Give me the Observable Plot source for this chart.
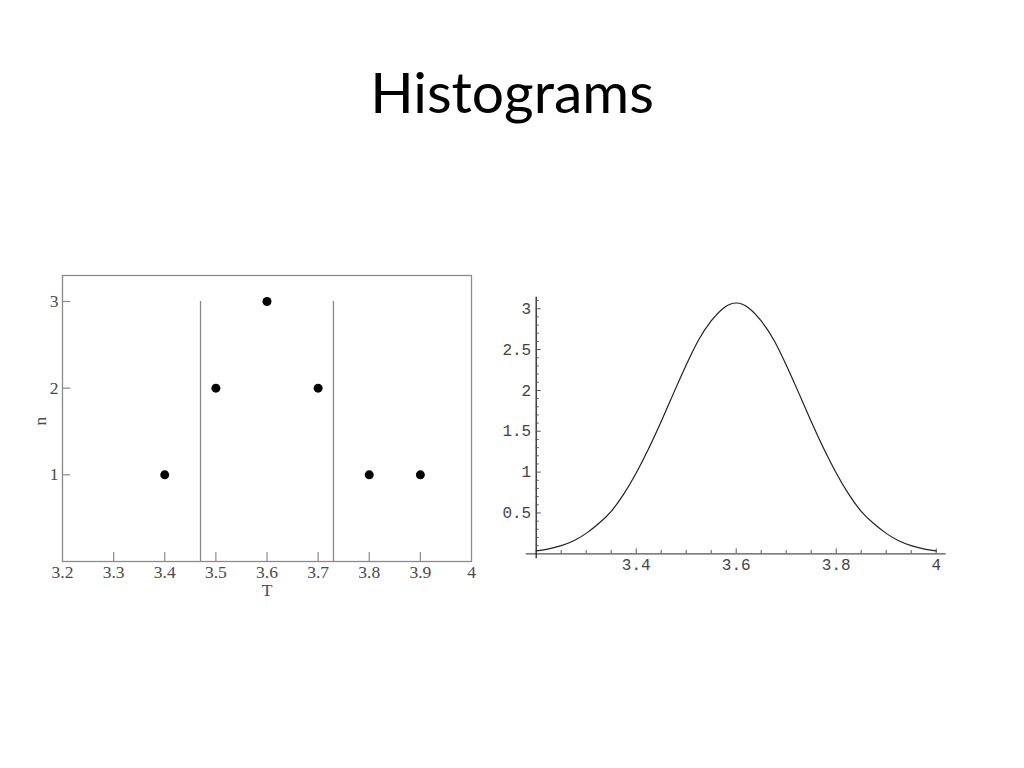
<!DOCTYPE html>
<html>
<head>
<meta charset="utf-8">
<script src="https://cdn.jsdelivr.net/npm/d3@7"></script>
<script src="https://cdn.jsdelivr.net/npm/@observablehq/plot@0.6"></script>
<style>
  html, body { margin: 0; padding: 0; background: #fff; width: 1024px; height: 768px; overflow: hidden; }
  #title { position: absolute; left: 0; width: 1024px; top: 63px; text-align: center;
           font-family: Lato, "Open Sans", sans-serif; font-size: 57px; color: #000; line-height: 1; }
  #left { position: absolute; left: 0; top: 250px; }
  #left svg text { font-family: "Liberation Serif", "Times New Roman", serif !important; font-size: 17.5px !important; }
  #right { position: absolute; left: 498px; top: 285px; width: 470px; height: 300px; overflow: hidden; }
  #right svg { margin-left: -3px; }
  #right svg text { font-family: "Liberation Mono", "DejaVu Sans Mono", monospace !important; font-size: 16px !important; }
</style>
</head>
<body>
<div id="title">Histograms</div>
<div id="left"></div>
<div id="right"></div>
<script>
// ---- Left chart data (counts n vs T) ----
const tValues = [3.4, 3.5, 3.6, 3.7, 3.8, 3.9];
const nCounts = [1, 2, 3, 2, 1, 1];
const binEdges = [3.47, 3.73];
const leftXTicks = [3.2, 3.3, 3.4, 3.5, 3.6, 3.7, 3.8, 3.9, 4];
const leftYTicks = [1, 2, 3];

// ---- Right chart data (smooth curve) ----
const curveX = [3.2, 3.225, 3.25, 3.275, 3.3, 3.325, 3.35, 3.375, 3.4, 3.425, 3.45, 3.475, 3.5, 3.525, 3.55, 3.575, 3.6,
                3.625, 3.65, 3.675, 3.7, 3.725, 3.75, 3.775, 3.8, 3.825, 3.85, 3.875, 3.9, 3.925, 3.95, 3.975, 4.0];
const curveY = [0.035, 0.06, 0.10, 0.16, 0.25, 0.37, 0.52, 0.73, 0.99, 1.29, 1.62, 1.97, 2.31, 2.62, 2.85, 3.01, 3.07,
                3.01, 2.85, 2.62, 2.31, 1.97, 1.62, 1.29, 0.99, 0.73, 0.52, 0.37, 0.25, 0.16, 0.10, 0.06, 0.035];
const rightXLabels = [3.4, 3.6, 3.8, 4];
const rightYLabels = [0.5, 1, 1.5, 2, 2.5, 3];
const rightXMinor = d3.range(0, 17).map(i => +(3.2 + i * 0.05).toFixed(2));
const rightYMinor = d3.range(1, 32).map(i => +(i * 0.1).toFixed(1));

const points = tValues.map((t, i) => ({T: t, n: nCounts[i]}));
const curve = curveX.map((x, i) => ({x, y: curveY[i]}));

const serif = '"Liberation Serif", "Times New Roman", serif';
const gray = "#8a8a8a";

const left = Plot.plot({
  width: 500, height: 360,
  marginLeft: 62, marginRight: 29, marginTop: 25, marginBottom: 49,
  style: {fontFamily: serif, fontSize: "17px", color: "#4a4a4a", background: "transparent", overflow: "visible"},
  x: {domain: [3.2, 4]},
  y: {domain: [0, 3.3]},
  marks: [
    Plot.frame({stroke: gray, strokeWidth: 1.3}),
    Plot.ruleX(binEdges, {x: d => d, y1: 0, y2: 3, stroke: gray, strokeWidth: 1.3}),
    Plot.ruleX(leftXTicks.slice(1, -1), {x: d => d, y1: 0, y2: 0.105, stroke: gray, strokeWidth: 1.2}),
    Plot.ruleY(leftYTicks, {y: d => d, x1: 3.2, x2: 3.216, stroke: gray, strokeWidth: 1.2}),
    Plot.axisX(leftXTicks, {tickSize: 0, tickPadding: 4, tickFormat: d => String(d), fontSize: 17, label: null}),
    Plot.axisY(leftYTicks, {tickSize: 0, tickPadding: 4, tickFormat: d => String(d), fontSize: 17, label: null}),
    Plot.text(["T"], {frameAnchor: "bottom", dy: 22, lineAnchor: "top", text: d => d, fontSize: 17, fill: "#4a4a4a"}),
    Plot.text(["n"], {frameAnchor: "left", dx: -22, dy: 7, rotate: -90, text: d => d, fontSize: 17, fill: "#4a4a4a"}),
    Plot.dot(points, {x: "T", y: "n", r: 4.5, fill: "#000", stroke: null})
  ]
});
document.getElementById("left").appendChild(left);

const mono = '"Liberation Mono", "DejaVu Sans Mono", monospace';
const right = Plot.plot({
  width: 470, height: 300,
  marginLeft: 40.7, marginRight: 29.3, marginTop: 6.9, marginBottom: 31.7,
  style: {fontFamily: mono, fontSize: "16px", color: "#444", background: "transparent", overflow: "visible"},
  x: {domain: [3.2, 4]},
  y: {domain: [0, 3.2]},
  marks: [
    Plot.ruleY([0], {y: d => d, x1: 3.18, x2: 4.02, stroke: "#555", strokeWidth: 1.3}),
    Plot.ruleX([3.2], {x: d => d, y1: -0.06, y2: 3.14, stroke: "#222", strokeWidth: 1.3}),
    Plot.ruleX(rightXMinor.slice(1), {x: d => d, y1: 0, y2: d => (Math.abs(d * 5 - Math.round(d * 5)) < 1e-6 ? 0.06 : 0.04), stroke: "#555", strokeWidth: 1}),
    Plot.ruleY(rightYMinor, {y: d => d, x1: 3.2, x2: d => (Math.abs(d * 2 - Math.round(d * 2)) < 1e-6 ? 3.21 : 3.206), stroke: "#555", strokeWidth: 1}),
    Plot.axisX(rightXLabels, {tickSize: 0, tickPadding: 5, tickFormat: d => String(d), fontSize: 16, label: null}),
    Plot.axisY(rightYLabels, {tickSize: 0, tickPadding: 5, tickFormat: d => String(d), fontSize: 16, label: null}),
    Plot.line(curve, {x: "x", y: "y", curve: "natural", stroke: "#222", strokeWidth: 1.2})
  ]
});
document.getElementById("right").appendChild(right);
</script>
</body>
</html>
